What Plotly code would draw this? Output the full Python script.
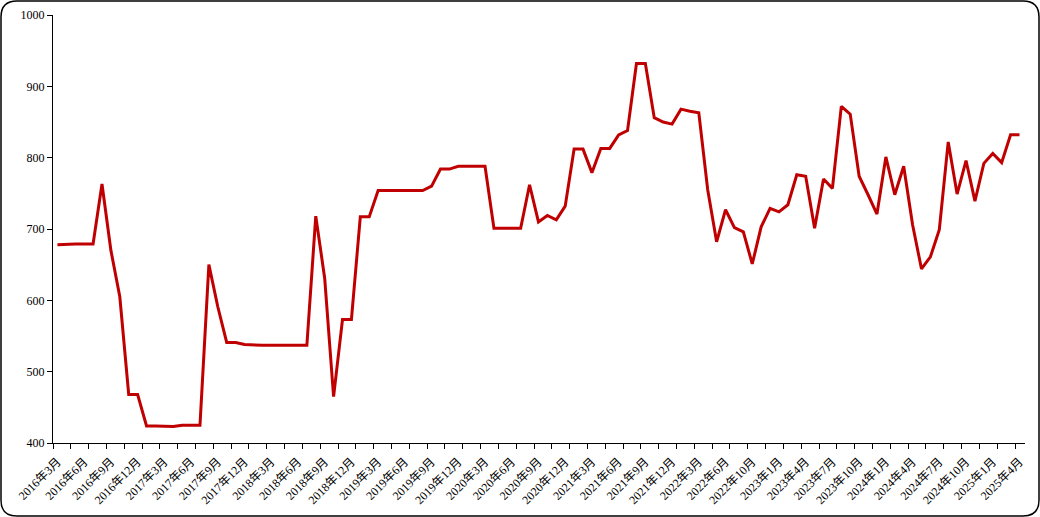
import plotly.graph_objects as go

# monthly series, 2016-03 .. 2025-04 (no 2022-08 entry)
months = []
for y in range(2016, 2026):
    for m in range(1, 13):
        if (y, m) < (2016, 3) or (y, m) > (2025, 4) or (y, m) == (2022, 8):
            continue
        months.append(f"{y}年{m}月")

values = [
    678, 679, 679, 679, 679, 763, 670, 605, 468, 468,
    424, 424, 423, 423, 425, 425, 425, 650, 591, 541,
    541, 538, 537, 537, 537, 537, 537, 537, 537, 718,
    631, 465, 573, 573, 717, 717, 754, 754, 754, 754,
    754, 754, 760, 784, 784, 788, 788, 788, 788, 701,
    701, 701, 701, 762, 710, 719, 713, 732, 812, 812,
    779, 813, 813, 832, 838, 932, 932, 856, 850, 847,
    868, 865, 863, 755, 682, 727, 702, 696, 651, 703,
    729, 724, 734, 776, 774, 701, 770, 757, 872, 861,
    774, 748, 721, 801, 748, 788, 706, 644, 661, 699,
    822, 749, 796, 739, 792, 806, 793, 832, 832,
]

idx = list(range(len(values)))
label_idx = idx[::3]
label_txt = [months[i] for i in label_idx]

W, H = 1040, 517
L, R, T, B = 53, 15, 15, 74
pw, ph = W - L - R, H - T - B


def px2paper(x, y):
    return (x - L) / pw, (H - B - y) / ph


def rounded_frame(x0, y0, x1, y1, r):
    pts = [
        ("M", [(x0 + r, y0)]),
        ("L", [(x1 - r, y0)]),
        ("Q", [(x1, y0), (x1, y0 + r)]),
        ("L", [(x1, y1 - r)]),
        ("Q", [(x1, y1), (x1 - r, y1)]),
        ("L", [(x0 + r, y1)]),
        ("Q", [(x0, y1), (x0, y1 - r)]),
        ("L", [(x0, y0 + r)]),
        ("Q", [(x0, y0), (x0 + r, y0)]),
    ]
    out = ""
    for cmd, pp in pts:
        out += cmd + " " + " ".join("%.5f,%.5f" % px2paper(a, b) for a, b in pp) + " "
    return out + "Z"


fig = go.Figure()
fig.add_trace(go.Scatter(
    x=idx, y=values, mode="lines",
    line=dict(color="#C00000", width=3),
    hoverinfo="skip",
))

fig.update_layout(
    width=W, height=H,
    margin=dict(l=L, r=R, t=T, b=B),
    paper_bgcolor="white", plot_bgcolor="white",
    showlegend=False,
    font=dict(family="Liberation Serif, Noto Sans CJK SC, serif", size=12, color="black"),
    shapes=[dict(
        type="path", xref="paper", yref="paper",
        path=rounded_frame(1, 1, W - 1, H - 1, 16),
        line=dict(color="black", width=1.5),
    )],
)

fig.update_xaxes(
    range=[-0.5, len(values) - 1 + 0.62],
    tickmode="array", tickvals=label_idx, ticktext=label_txt,
    tickangle=-45, automargin=False,
    ticks="outside", ticklen=6, tickcolor="rgba(0,0,0,0)",
    minor=dict(ticks="outside", tick0=-0.5, dtick=2, ticklen=5, tickcolor="black", tickwidth=1),
    showline=True, linecolor="black", linewidth=1,
    showgrid=False, zeroline=False,
)
fig.update_yaxes(
    range=[400, 1000], dtick=100, automargin=False,
    ticks="outside", ticklen=5, tickcolor="black",
    showline=True, linecolor="black", linewidth=1,
    showgrid=False, zeroline=False,
)

fig.write_html("out.html", config={"displayModeBar": False},
               post_script="document.body.style.margin='0';")
